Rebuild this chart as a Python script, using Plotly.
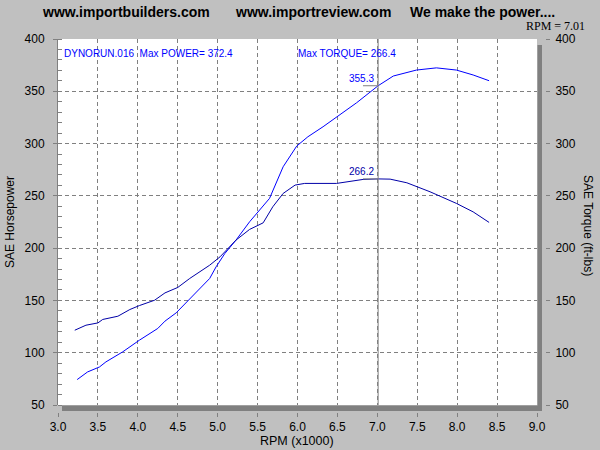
import plotly.graph_objects as go

# ---- data ----
rpm_hp = [3.24, 3.37, 3.52, 3.60, 3.81, 4.02, 4.25, 4.34, 4.48, 4.61, 4.75, 4.90, 4.98, 5.09,
          5.23, 5.40, 5.65, 5.82, 5.99, 6.13, 6.32, 6.51, 6.74, 7.01, 7.20, 7.49, 7.74, 7.99,
          8.20, 8.40]
hp = [74.3, 81.6, 86.4, 91.2, 100.8, 112.0, 123.2, 130.2, 138.1, 148.6, 159.8, 171.0, 182.1, 194.9,
      207.7, 225.2, 247.6, 277.8, 297.6, 306.5, 316.1, 326.3, 339.0, 355.3, 364.6, 370.3, 372.4, 370.3,
      365.6, 360.1]
rpm_tq = [3.21, 3.35, 3.50, 3.56, 3.75, 3.90, 4.02, 4.21, 4.34, 4.50, 4.65, 4.90, 5.03, 5.23,
          5.40, 5.57, 5.69, 5.82, 5.97, 6.09, 6.49, 6.82, 7.01, 7.16, 7.37, 7.66, 7.99, 8.20, 8.40]
tq = [121.5, 126.3, 128.5, 131.8, 134.9, 141.3, 145.1, 150.2, 157.2, 162.4, 171.0, 183.7, 191.7, 207.7,
      217.9, 224.2, 239.5, 252.3, 260.3, 261.9, 261.9, 265.7, 266.2, 266.0, 262.5, 253.9, 242.8, 234.7, 224.6]

x_tick_vals = [3.0, 3.5, 4.0, 4.5, 5.0, 5.5, 6.0, 6.5, 7.0, 7.5, 8.0, 8.5, 9.0]
x_tick_text = ["3.0", "3.5", "4.0", "4.5", "5.0", "5.5", "6.0", "6.5", "7.0", "7.5", "8.0", "8.5", "9.0"]
y_tick_vals = [50, 100, 150, 200, 250, 300, 350, 400]
y_tick_text = ["50", "100", "150", "200", "250", "300", "350", "400"]

cursor_rpm = 7.01
cursor_hp = 355.3
cursor_tq = 266.2
label_start_rpm = 6.82
max_power = 372.4
max_torque = 266.4
run_name = "DYNORUN.016"

title_parts = ["www.importbuilders.com", "www.importreview.com", "We make the power...."]
x_title = "RPM (x1000)"
y_title = "SAE Horsepower"
y2_title = "SAE Torque (ft-lbs)"

# ---- layout geometry (pixels) ----
W, H = 600, 450
L, R, T, B = 58, 55, 39, 38
PW, PH = W - L - R, H - T - B


def px(x):
    return (x - L) / PW


def py(y):
    return (H - B - y) / PH


GRAY = "#808080"
BG = "#C0C0C0"
HP_COLOR = "#0000FF"
TQ_COLOR = "#0000A8"
FONT = "Liberation Sans, Arial, sans-serif"

fig = go.Figure()
fig.add_trace(go.Scatter(x=rpm_hp, y=hp, mode="lines", name="SAE Horsepower",
                         line=dict(color=HP_COLOR, width=1), xaxis="x", yaxis="y",
                         hoverinfo="x+y"))
fig.add_trace(go.Scatter(x=rpm_tq, y=tq, mode="lines", name="SAE Torque",
                         line=dict(color=TQ_COLOR, width=1), xaxis="x", yaxis="y2",
                         hoverinfo="x+y"))

x_dom = [0, px(537)]
y_dom = [py(405), 1]

fig.update_layout(
    width=W, height=H,
    margin=dict(l=L, r=R, t=T, b=B, pad=0, autoexpand=False),
    paper_bgcolor=BG, plot_bgcolor="white",
    showlegend=False,
    font=dict(family=FONT, size=12, color="black"),
    xaxis=dict(
        domain=x_dom, range=[3, 9], anchor="free", position=0, automargin=False,
        tickmode="array", tickvals=x_tick_vals, ticktext=x_tick_text,
        ticks="outside", ticklen=4, tickcolor=GRAY, tickwidth=1,
        ticklabelstandoff=0,
        showline=False, zeroline=False,
        showgrid=True, gridcolor=GRAY, gridwidth=1, griddash="4px,3px",
    ),
    xaxis2=dict(
        domain=x_dom, range=[3, 9], overlaying="x", anchor="y", side="bottom", automargin=False,
        tickmode="linear", tick0=3, dtick=0.1,
        ticks="inside", ticklen=6, tickcolor=GRAY,
        showticklabels=False, showgrid=False, zeroline=False,
        showline=True, linecolor=GRAY, linewidth=1, mirror=True,
    ),
    yaxis=dict(
        domain=y_dom, range=[50, 400], anchor="x", automargin=False,
        tickmode="array", tickvals=y_tick_vals, ticktext=y_tick_text,
        ticks="outside", ticklen=4, tickcolor=GRAY,
        ticklabelstandoff=6,
        minor=dict(ticks="inside", ticklen=4, tickcolor=GRAY, tick0=50, dtick=10, showgrid=False),
        showline=True, linecolor=GRAY, linewidth=1, zeroline=False,
        showgrid=True, gridcolor=GRAY, gridwidth=1, griddash="4px,3px",
    ),
    yaxis2=dict(
        domain=y_dom, range=[50, 400], overlaying="y", anchor="free", position=1, side="right",
        automargin=False,
        tickmode="array", tickvals=y_tick_vals, ticktext=y_tick_text,
        ticks="outside", ticklen=4, tickcolor=GRAY,
        ticklabelstandoff=3,
        showline=False, showgrid=False, zeroline=False,
    ),
    yaxis3=dict(
        domain=y_dom, range=[50, 400], overlaying="y", anchor="x", side="right", automargin=False,
        tickmode="linear", tick0=50, dtick=10,
        ticks="inside", ticklen=4, tickcolor=GRAY,
        showticklabels=False, showgrid=False, zeroline=False,
        showline=True, linecolor=GRAY, linewidth=1,
    ),
)

shapes = [
    # drop shadow of the plot panel
    dict(type="rect", xref="paper", yref="paper", x0=px(537.5), x1=px(542), y0=py(411), y1=py(45),
         fillcolor=GRAY, line=dict(width=0), layer="above"),
    dict(type="rect", xref="paper", yref="paper", x0=px(62), x1=px(542), y0=py(411), y1=py(405.5),
         fillcolor=GRAY, line=dict(width=0), layer="above"),
    # cursor line
    dict(type="line", xref="x", yref="y", x0=cursor_rpm, x1=cursor_rpm, y0=50, y1=400,
         line=dict(color=GRAY, width=1), layer="above"),
    # value leader lines
    dict(type="line", xref="x", yref="y", x0=label_start_rpm, x1=cursor_rpm, y0=cursor_hp, y1=cursor_hp,
         line=dict(color=GRAY, width=1), layer="above"),
    dict(type="line", xref="x", yref="y", x0=label_start_rpm, x1=cursor_rpm, y0=cursor_tq, y1=cursor_tq,
         line=dict(color=GRAY, width=1), layer="above"),
]
fig.update_layout(shapes=shapes)

bold14 = dict(size=14, color="black", family=FONT, weight="bold")
ann = [
    dict(text=f"{cursor_hp:.1f}", x=cursor_rpm, y=cursor_hp, xref="x", yref="y",
         xanchor="right", yanchor="bottom", xshift=-2, yshift=0, showarrow=False,
         font=dict(size=10, color=HP_COLOR)),
    dict(text=f"{cursor_tq:.1f}", x=cursor_rpm, y=cursor_tq, xref="x", yref="y",
         xanchor="right", yanchor="bottom", xshift=-2, yshift=0, showarrow=False,
         font=dict(size=10, color=TQ_COLOR)),
    dict(text=f"{run_name}  Max POWER= {max_power:.1f}", x=px(62), y=py(53), xref="paper", yref="paper",
         xanchor="left", yanchor="middle", showarrow=False, font=dict(size=10, color=HP_COLOR)),
    dict(text=f"Max TORQUE= {max_torque:.1f}", x=px(296), y=py(53), xref="paper", yref="paper",
         xanchor="left", yanchor="middle", showarrow=False, font=dict(size=10, color=HP_COLOR)),
    dict(text=title_parts[0], x=px(40), y=py(12), xref="paper", yref="paper",
         xanchor="left", yanchor="middle", showarrow=False, font=bold14),
    dict(text=title_parts[1], x=px(233), y=py(12), xref="paper", yref="paper",
         xanchor="left", yanchor="middle", showarrow=False, font=bold14),
    dict(text=title_parts[2], x=px(408), y=py(12), xref="paper", yref="paper",
         xanchor="left", yanchor="middle", showarrow=False, font=bold14),
    dict(text=f"RPM = {cursor_rpm:.2f}", x=px(587), y=py(26), xref="paper", yref="paper",
         xanchor="right", yanchor="middle", showarrow=False,
         font=dict(size=12, color="black", family="Liberation Serif, Times New Roman, serif")),
    # axis titles
    dict(text=x_title, x=px(297), y=py(440.5), xref="paper", yref="paper",
         xanchor="center", yanchor="middle", showarrow=False, font=dict(size=12.5, color="black")),
    dict(text=y_title, x=px(10), y=py(222), xref="paper", yref="paper", textangle=-90,
         xanchor="center", yanchor="middle", showarrow=False, font=dict(size=12, color="black")),
    dict(text=y2_title, x=px(588), y=py(225), xref="paper", yref="paper", textangle=90,
         xanchor="center", yanchor="middle", showarrow=False, font=dict(size=12, color="black")),
]
fig.update_layout(annotations=ann)

fig.write_html(
    "out.html",
    config={"displayModeBar": False},
    post_script="document.body.style.margin='0';document.body.style.padding='0';"
                "document.body.style.overflow='hidden';",
)
